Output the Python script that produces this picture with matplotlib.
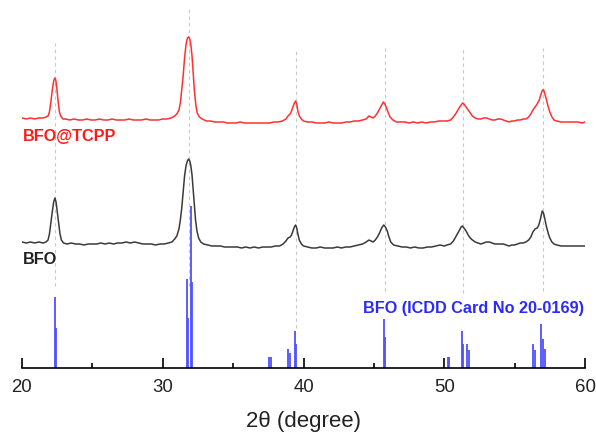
import numpy as np
import matplotlib.pyplot as plt
from matplotlib.ticker import MultipleLocator

plt.rcParams['font.family'] = ['Liberation Sans', 'DejaVu Sans']

# BFO@TCPP trace (2theta, intensity a.u.)
tcpp_x = [20.0, 20.3, 20.6, 20.9, 21.2, 21.5, 21.7, 21.85, 21.95, 22.05, 22.15, 22.25, 22.33, 22.4, 22.48,
          22.57, 22.66, 22.75, 22.9, 23.1, 23.4, 23.7, 24.0, 24.3, 24.6, 24.9, 25.2, 25.5, 25.8, 26.1,
          26.4, 26.7, 27.0, 27.3, 27.6, 27.9, 28.2, 28.5, 28.8, 29.1, 29.4, 29.7, 30.0, 30.3, 30.6,
          30.85, 31.0, 31.15, 31.25, 31.35, 31.45, 31.55, 31.65, 31.75, 31.84, 31.92, 32.0, 32.08, 32.16,
          32.25, 32.35, 32.45, 32.6, 32.8, 33.1, 33.4, 33.7, 34.0, 34.3, 34.6, 34.9, 35.2, 35.5, 35.8,
          36.1, 36.4, 36.7, 37.0, 37.3, 37.6, 37.9, 38.2, 38.5, 38.75, 38.9, 39.05, 39.15, 39.25, 39.35,
          39.44, 39.52, 39.6, 39.7, 39.85, 40.0, 40.3, 40.6, 40.9, 41.2, 41.5, 41.8, 42.1, 42.4, 42.7,
          43.0, 43.3, 43.6, 43.9, 44.2, 44.45, 44.65, 44.8, 44.95, 45.1, 45.25, 45.4, 45.55, 45.67, 45.78,
          45.9, 46.0, 46.15, 46.35, 46.6, 46.9, 47.2, 47.5, 47.8, 48.1, 48.4, 48.7, 49.0, 49.3, 49.6,
          49.9, 50.2, 50.45, 50.65, 50.85, 51.05, 51.2, 51.3, 51.4, 51.55, 51.7, 51.85, 52.0, 52.2, 52.4,
          52.6, 52.8, 53.0, 53.2, 53.4, 53.6, 53.8, 54.0, 54.2, 54.4, 54.6, 54.8, 55.0, 55.2, 55.4,
          55.6, 55.8, 56.0, 56.15, 56.3, 56.45, 56.6, 56.75, 56.88, 56.98, 57.06, 57.15, 57.25, 57.35, 57.5,
          57.65, 57.8, 58.0, 58.3, 58.6, 58.9, 59.2, 59.5, 59.8, 60.0]
tcpp_y = [250, 249, 250, 249, 250, 250, 251, 252, 256, 266, 278, 287, 290, 288, 279,
          266, 256, 252, 249, 249, 248, 249, 248, 248, 249, 248, 248, 249, 248, 248,
          249, 248, 248, 248, 249, 248, 248, 248, 249, 248, 248, 248, 249, 249, 250,
          252, 254, 258, 265, 278, 292, 310, 323, 330, 331, 329, 323, 312, 295,
          277, 263, 255, 251, 249, 247, 247, 246, 246, 246, 245, 245, 245, 246, 245,
          245, 245, 245, 245, 245, 245, 246, 246, 247, 249, 252, 254, 257, 261, 265,
          267, 264, 257, 252, 249, 247, 246, 246, 245, 245, 245, 246, 245, 245, 245,
          246, 246, 247, 247, 248, 249, 252, 251, 250, 252, 255, 259, 263, 266, 264,
          260, 256, 251, 248, 246, 246, 246, 245, 246, 245, 246, 245, 246, 246, 247,
          247, 247, 248, 251, 255, 260, 263, 265, 264, 261, 258, 255, 252, 250, 249,
          249, 250, 250, 249, 248, 248, 249, 249, 248, 247, 246, 247, 247, 248, 248,
          249, 249, 251, 254, 258, 261, 264, 268, 274, 278, 278, 274, 269, 263, 256,
          251, 248, 247, 246, 246, 246, 246, 246, 245, 246]

# BFO trace
bfo_x = [20.0, 20.3, 20.6, 20.9, 21.2, 21.5, 21.7, 21.85, 21.95, 22.05, 22.15, 22.25, 22.34, 22.42, 22.5,
         22.6, 22.7, 22.8, 22.95, 23.2, 23.5, 23.8, 24.1, 24.4, 24.7, 25.0, 25.3, 25.6, 25.9, 26.2,
         26.5, 26.8, 27.1, 27.4, 27.7, 28.0, 28.3, 28.6, 28.9, 29.2, 29.5, 29.8, 30.1, 30.4, 30.65,
         30.85, 31.0, 31.15, 31.25, 31.35, 31.45, 31.55, 31.65, 31.75, 31.84, 31.92, 32.0, 32.08, 32.17,
         32.25, 32.33, 32.43, 32.55, 32.7, 32.9, 33.2, 33.5, 33.8, 34.1, 34.4, 34.7, 35.0, 35.3, 35.6,
         35.9, 36.2, 36.5, 36.8, 37.1, 37.4, 37.7, 38.0, 38.3, 38.55, 38.75, 38.9, 39.05, 39.15, 39.25,
         39.35, 39.44, 39.52, 39.6, 39.7, 39.85, 40.0, 40.3, 40.6, 40.9, 41.2, 41.5, 41.8, 42.1, 42.4,
         42.7, 43.0, 43.3, 43.6, 43.9, 44.2, 44.45, 44.65, 44.8, 44.95, 45.1, 45.25, 45.4, 45.55, 45.7,
         45.82, 45.95, 46.05, 46.2, 46.4, 46.7, 47.0, 47.3, 47.6, 47.9, 48.2, 48.5, 48.8, 49.1, 49.4,
         49.7, 50.0, 50.2, 50.45, 50.65, 50.85, 51.05, 51.2, 51.28, 51.4, 51.55, 51.7, 51.85, 52.0, 52.2,
         52.4, 52.6, 52.8, 53.0, 53.2, 53.4, 53.6, 53.8, 54.0, 54.2, 54.4, 54.6, 54.8, 55.0, 55.2,
         55.4, 55.6, 55.8, 56.0, 56.15, 56.3, 56.45, 56.6, 56.72, 56.85, 56.96, 57.05, 57.15, 57.25, 57.38,
         57.5, 57.65, 57.8, 58.0, 58.3, 58.6, 58.9, 59.2, 59.5, 59.8, 60.0]
bfo_y = [126, 125, 126, 125, 126, 125, 126, 128, 134, 145, 156, 166, 170, 166, 157,
         145, 134, 128, 125, 124, 125, 124, 124, 123, 124, 124, 124, 125, 124, 125,
         124, 125, 125, 126, 125, 126, 125, 124, 124, 124, 123, 124, 124, 125, 126,
         129, 132, 139, 148, 160, 176, 192, 202, 207, 209, 207, 202, 193, 177,
         162, 148, 137, 130, 126, 124, 123, 122, 122, 122, 121, 121, 121, 121, 120,
         121, 120, 121, 120, 121, 121, 121, 122, 122, 124, 127, 130, 131, 133, 137,
         141, 143, 140, 134, 128, 124, 122, 121, 120, 120, 121, 120, 120, 120, 121,
         120, 121, 121, 122, 123, 124, 126, 128, 127, 126, 128, 131, 135, 140, 143,
         141, 137, 132, 126, 123, 122, 121, 121, 120, 121, 120, 120, 121, 121, 122,
         123, 122, 123, 124, 127, 132, 137, 141, 142, 140, 137, 133, 130, 128, 126,
         125, 124, 125, 126, 126, 125, 124, 124, 124, 124, 123, 122, 123, 123, 124,
         125, 125, 126, 128, 131, 136, 139, 140, 143, 150, 157, 155, 149, 142, 135,
         130, 126, 124, 123, 122, 122, 122, 122, 122, 122, 122]

# ICDD 20-0169 reference lines (2theta, relative intensity %)
ref_pos = [22.37, 22.42, 31.72, 31.81, 32.0, 32.1, 37.57, 37.66, 38.93, 39.02, 39.41, 39.5,
           45.69, 45.8, 50.24, 50.35, 51.25, 51.34, 51.63, 51.75, 56.3, 56.43, 56.85, 56.99, 57.16]
ref_int = [44, 25, 55, 31, 100, 53, 7, 7, 12, 9, 23, 15,
           30, 19, 7, 7, 23, 15, 15, 11, 15, 11, 27, 18, 12]

# guide lines at the main reflections
guide_pos = [22.35, 31.86, 39.45, 45.8, 51.35, 57.05]
guide_top = [325, 359, 320, 320, 320, 320]
guide_bot = [82, 82, 40, 77, 75, 77]

fig = plt.figure(figsize=(5.96, 4.34), dpi=100)
ax = fig.add_axes([22 / 596, 66 / 434, 563 / 596, 368 / 434])

for p, t, b in zip(guide_pos, guide_top, guide_bot):
    ax.plot([p, p], [b, t], color='#c8c8c8', lw=0.8, ls=(0, (3, 3)), zorder=1)

ax.vlines(ref_pos, 0, np.array(ref_int) * 1.62, color='#5050ff', lw=1.3, zorder=2)
ax.plot(bfo_x, bfo_y, color='#3a3a3a', lw=1.1, zorder=3)
ax.plot(tcpp_x, tcpp_y, color='#ff3030', lw=1.1, zorder=3)

ax.text(20.05, 231, 'BFO@TCPP', color='#ff1a1a', fontsize=11.7, fontweight='bold', va='center', ha='left')
ax.text(20.05, 109, 'BFO', color='#222222', fontsize=11.7, fontweight='bold', va='center', ha='left')
ax.text(59.95, 59, 'BFO (ICDD Card No 20-0169)', color='#2a2aff', fontsize=11.7, fontweight='bold',
        va='center', ha='right')

ax.set_xlim(20, 60)
ax.set_ylim(0, 368)
for s in ['left', 'right', 'top']:
    ax.spines[s].set_visible(False)
ax.spines['bottom'].set_linewidth(1.2)
ax.set_yticks([])
ax.xaxis.set_major_locator(MultipleLocator(10))
ax.xaxis.set_minor_locator(MultipleLocator(5))
ax.tick_params(axis='x', which='major', direction='in', length=7, width=1.2, labelsize=13.4, pad=8,
               labelcolor='#222222')
ax.tick_params(axis='x', which='minor', direction='in', length=3.5, width=1.2)
ax.set_xlabel('2θ (degree)', fontsize=16, labelpad=11, color='#222222')

fig.savefig('out.png', dpi=100)
